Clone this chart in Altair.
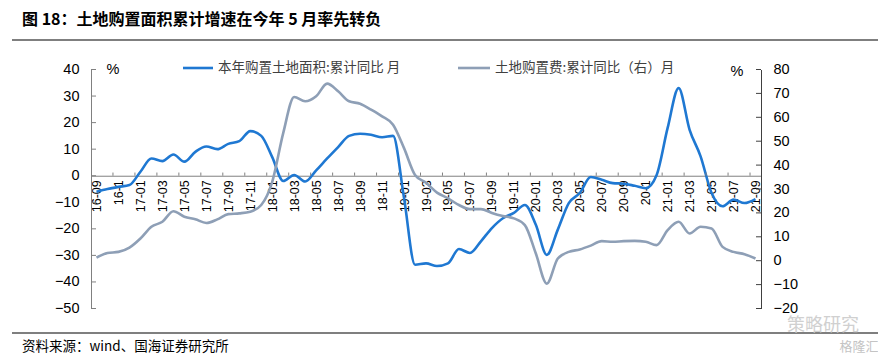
import altair as alt
import pandas as pd

# ---------------- data ----------------
months = [
    "16-09", "16-10", "16-11", "16-12",
    "17-01", "17-02", "17-03", "17-04", "17-05", "17-06", "17-07", "17-08", "17-09", "17-10", "17-11", "17-12",
    "18-01", "18-02", "18-03", "18-04", "18-05", "18-06", "18-07", "18-08", "18-09", "18-10", "18-11", "18-12",
    "19-01", "19-02", "19-03", "19-04", "19-05", "19-06", "19-07", "19-08", "19-09", "19-10", "19-11", "19-12",
    "20-01", "20-02", "20-03", "20-04", "20-05", "20-06", "20-07", "20-08", "20-09", "20-10", "20-11", "20-12",
    "21-01", "21-02", "21-03", "21-04", "21-05", "21-06", "21-07", "21-08", "21-09",
]

# 本年购置土地面积:累计同比 (left axis, %)
area_yoy = [
    -6.0, -5.0, -4.2, -3.5,
    1.5, 6.5, 5.5, 8.0, 5.3, 9.0, 11.0, 10.0, 12.0, 13.0, 16.8, 15.0,
    7.0, -2.0, 0.3, -2.2, 2.0, 6.5, 10.8, 15.0, 15.8, 15.4, 14.5, 15.0,
    -8.4, -33.5, -33.0, -34.0, -33.0, -27.6, -29.1, -24.7, -19.7, -16.0, -14.0, -11.0,
    -18.5, -29.8, -20.3, -10.3, -6.5, -0.5, -1.5, -2.8, -3.0, -3.8, -4.7, 0.3,
    18.0, 33.0, 17.3, 7.3, -6.5, -11.5, -9.0, -10.3, -8.8,
]

# 土地购置费:累计同比 (right axis, %)
cost_yoy = [
    1.3, 3.2, 3.7, 5.5,
    9.3, 14.2, 16.3, 20.7, 18.4, 17.3, 15.8, 17.3, 19.5, 19.8, 20.5, 23.3,
    33.0, 53.4, 68.5, 66.7, 68.8, 74.1, 70.9, 66.7, 65.7, 63.2, 60.4, 56.9,
    47.1, 35.9, 32.6, 28.5, 26.1, 23.3, 21.6, 21.6, 20.0, 18.7, 17.7, 14.9,
    3.0, -9.6, 0.9, 3.7, 4.7, 6.3, 8.2, 7.9, 8.2, 8.3, 7.9, 6.5,
    12.8, 16.3, 11.4, 14.2, 13.5, 5.8, 3.7, 2.7, 0.9,
]

# x-axis labels as printed (every second month)
tick_labels = [
    "16-09", "16-1", "17-01", "17-03", "17-05", "17-07", "17-09", "17-11",
    "18-01", "18-03", "18-05", "18-07", "18-09", "18-11",
    "19-01", "19-03", "19-05", "19-07", "19-09", "19-11",
    "20-01", "20-03", "20-05", "20-07", "20-09", "20-1",
    "21-01", "21-03", "21-05", "21-07", "21-09",
]
left_ticks = [-50, -40, -30, -20, -10, 0, 10, 20, 30, 40]
right_ticks = [-20, -10, 0, 10, 20, 30, 40, 50, 60, 70, 80]

TITLE = "图 18：土地购置面积累计增速在今年 5 月率先转负"
LEG1 = "本年购置土地面积:累计同比 月"
LEG2 = "土地购置费:累计同比（右）月"
SOURCE = "资料来源：wind、国海证券研究所"

# ---------------- chart ----------------
W, H = 670, 239
BLUE = "#1F78D2"
GRAY = "#8E9FB6"
CJK = "Noto Sans CJK SC"
LAT = "Liberation Sans"
XFS = 12.5

n = len(months)
df = pd.DataFrame({"idx": list(range(n)), "month": months, "area": area_yoy, "cost": cost_yoy})

xscale = alt.Scale(domain=[-0.5, n - 0.5], nice=False, zero=False)
yl = alt.Scale(domain=[-50, 40], nice=False, zero=False)
yr = alt.Scale(domain=[-20, 80], nice=False, zero=False)

boundary_vals = [-0.5 + 2 * k for k in range(len(tick_labels))]
label_expr = "[" + ",".join("'%s'" % s for s in tick_labels) + "][round((datum.value + 0.5) / 2)]"
zero_offset = -(H * 50.0 / 90.0)

x_axis = alt.Axis(
    values=boundary_vals, labelExpr=label_expr, labelAngle=270, labelOffset=5.5,
    labelPadding=4, labelFontSize=XFS, labelFont=LAT, labelColor="#000000",
    tickSize=0, domainColor="#808080", domainWidth=1, grid=False, title=None,
    offset=zero_offset, labelOverlap=False, labelFlush=False, labelLimit=300,
)

blue_line = alt.Chart(df).mark_line(color=BLUE, strokeWidth=2.6, interpolate="monotone").encode(
    x=alt.X("idx:Q", scale=xscale, axis=x_axis),
    y=alt.Y("area:Q", scale=yl, axis=alt.Axis(
        values=left_ticks, orient="left", tickSize=0, labelPadding=12, labelFontSize=14.5,
        labelFont=LAT, labelColor="#000000", domainColor="#808080", grid=False, title=None)),
)

gray_line = alt.Chart(df).mark_line(color=GRAY, strokeWidth=2.6, interpolate="monotone").encode(
    x=alt.X("idx:Q", scale=xscale, axis=x_axis),
    y=alt.Y("cost:Q", scale=yr, axis=alt.Axis(
        values=right_ticks, orient="right", tickSize=0, labelPadding=12, labelFontSize=14.5,
        labelFont=LAT, labelColor="#000000", domainColor="#404040", grid=False, title=None)),
)

xt_df = pd.DataFrame({"idx": boundary_vals[1:]})
x_ticks = alt.Chart(xt_df).transform_calculate(y0="0", y1="1.2").mark_rule(
    color="#808080", strokeWidth=1).encode(
    x=alt.X("idx:Q", scale=xscale, axis=x_axis),
    y=alt.Y("y0:Q", scale=yl, axis=None),
    y2="y1:Q",
)

lt_df = pd.DataFrame({"v": left_ticks})
l_ticks = alt.Chart(lt_df).mark_rule(color="#808080", strokeWidth=1).encode(
    y=alt.Y("v:Q", scale=yl, axis=None), x=alt.value(0), x2=alt.value(5),
)
rt_df = pd.DataFrame({"v": right_ticks})
r_ticks = alt.Chart(rt_df).mark_rule(color="#404040", strokeWidth=1).encode(
    y=alt.Y("v:Q", scale=yr, axis=None), x=alt.value(W - 5), x2=alt.value(W),
)


def note(text, x, y, size, weight="normal", color="#000000", align="left", font=CJK):
    return alt.Chart(pd.DataFrame({"t": [text]})).mark_text(
        align=align, baseline="middle", font=font, fontSize=size, fontWeight=weight, color=color
    ).encode(text="t:N", x=alt.value(x), y=alt.value(y))


def hline(x1, x2, y, color, width):
    return alt.Chart(pd.DataFrame({"t": [0]})).mark_rule(color=color, strokeWidth=width).encode(
        x=alt.value(x1), x2=alt.value(x2), y=alt.value(y))


annos = [
    note(TITLE, -69, -49.5, 16, weight="bold"),
    hline(-79, 787, -29.5, "#000000", 1.2),
    hline(92, 122, -1.5, BLUE, 2.6),
    note(LEG1, 127, -1.5, 13.5, color="#404040"),
    hline(367, 399, -1.5, GRAY, 2.6),
    note(LEG2, 404, -1.5, 13.5, color="#404040"),
    note("%", 22, 0.5, 14.5, align="center", font=LAT),
    note("%", 646, 2.5, 14.5, align="center", font=LAT),
    hline(-79, 787, 263.5, "#000000", 1.2),
    note(SOURCE, -69, 277.5, 13.5),
    note("策略研究", 732, 256, 18, color="#d0d0d0", align="center"),
    note("格隆汇", 768, 277.5, 13, color="#c4c4c4", align="center"),
]

chart = alt.layer(blue_line, gray_line, x_ticks, l_ticks, r_ticks, *annos).resolve_scale(
    y="independent"
).properties(
    width=W, height=H,
    autosize=alt.AutoSizeParams(type="none"),
    padding={"left": 83, "top": 61.5, "right": 117, "bottom": 46},
    background="#ffffff",
).configure_view(stroke=None).configure_axisX(
    labelFontSize=XFS, labelFont=LAT, labelColor="#000000"
)

chart.save("out.html", embed_options={"renderer": "svg", "actions": False})
